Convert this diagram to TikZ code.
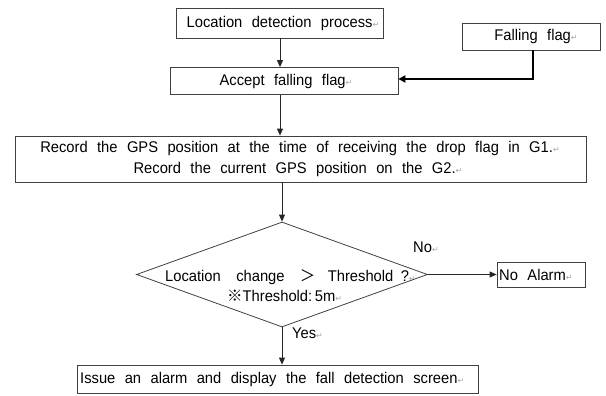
\documentclass[tikz,border=0pt]{standalone}
\usepackage{fontspec}
\setmainfont{Liberation Sans}[WordSpace=2.3,FakeStretch=0.95]
\newfontfamily\cjk{Noto Sans CJK SC}
\newfontfamily\djv{DejaVu Sans}
\usetikzlibrary{arrows.meta,shapes.geometric,calc}
\newcommand{\parmark}{{\color{black!35}\djv\fontsize{8}{8}\selectfont ↵}}
\begin{document}
\begin{tikzpicture}[x=1pt,y=-1pt,
  box/.style={draw=black!75,line width=0.8pt,inner sep=0pt,fill=white},
  txt/.style={inner sep=0pt,font=\fontsize{15.5}{18}\selectfont,text=black},
  arr/.style={draw=black!85,line width=0.9pt,-{Triangle[length=7pt,width=6pt]}},
  thickarr/.style={draw=black,line width=1.8pt,-{Triangle[length=7pt,width=7pt]}}]
\useasboundingbox (0,0) rectangle (606,396);
% boxes
\node[box,minimum width=207pt,minimum height=30pt] (b1) at (279.5,23) {};
\node[txt] (t1) at (283,23) {Location detection process\parmark};
\node[box,minimum width=228pt,minimum height=27pt] (b2) at (284,81) {};
\node[txt] (t2) at (286,81) {Accept falling flag\parmark};
\node[box,minimum width=138pt,minimum height=27pt] (ff) at (531,36.5) {};
\node[txt] (tff) at (536,36.5) {Falling flag\parmark};
\node[box,minimum width=571pt,minimum height=46pt] (b3) at (300.5,159) {};
\node[txt] (t3a) at (300,148.5) {Record the GPS position at the time of receiving the drop flag in G1.\parmark};
\node[txt] (t3b) at (298,169) {Record the current GPS position on the G2.\parmark};
\node[draw=black!75,line width=0.8pt,shape=diamond,inner sep=0pt,minimum width=291pt,minimum height=105pt] (d) at (282,274.5) {};
\node[txt,anchor=west] (td1) at (165,277) {Location\hspace{6pt} change\hspace{6pt} {\cjk ＞}\hspace{3pt} Threshold\hspace{-2pt} ?\parmark};
\node[txt,anchor=west] (td2) at (227,296) {{\cjk ※}Threshold:\,5m\parmark};
\node[box,minimum width=88pt,minimum height=25pt] (na) at (541,274.5) {};
\node[txt,anchor=west] (tna) at (499,274.5) {No Alarm\parmark};
\node[box,minimum width=401pt,minimum height=28pt] (b4) at (277.5,379) {};
\node[txt,anchor=west] (t4) at (80,379) {Issue an alarm and display the fall detection screen\parmark};
% labels
\node[txt,anchor=west] (lno) at (413,247) {No\parmark};
\node[txt,anchor=west] (lyes) at (292,333) {Yes\parmark};
% connectors
\coordinate (cx) at (280,0);
\draw[arr] (b1.south -| cx) -- (b2.north -| cx);
\draw[arr] (b2.south -| cx) -- (b3.north -| cx);
\draw[arr] (b3.south -| d.north) -- (d.north);
\draw[arr] (d.south) -- (b4.north -| d.south);
\draw[arr] (d.east) -- (na.west);
\coordinate (ffx) at (533,0);
\draw[thickarr] (ff.south -| ffx) -- ($(ffx |- b2.east)+(0,-2)$) -- ($(b2.east)+(0,-2)$);
\end{tikzpicture}
\end{document}
